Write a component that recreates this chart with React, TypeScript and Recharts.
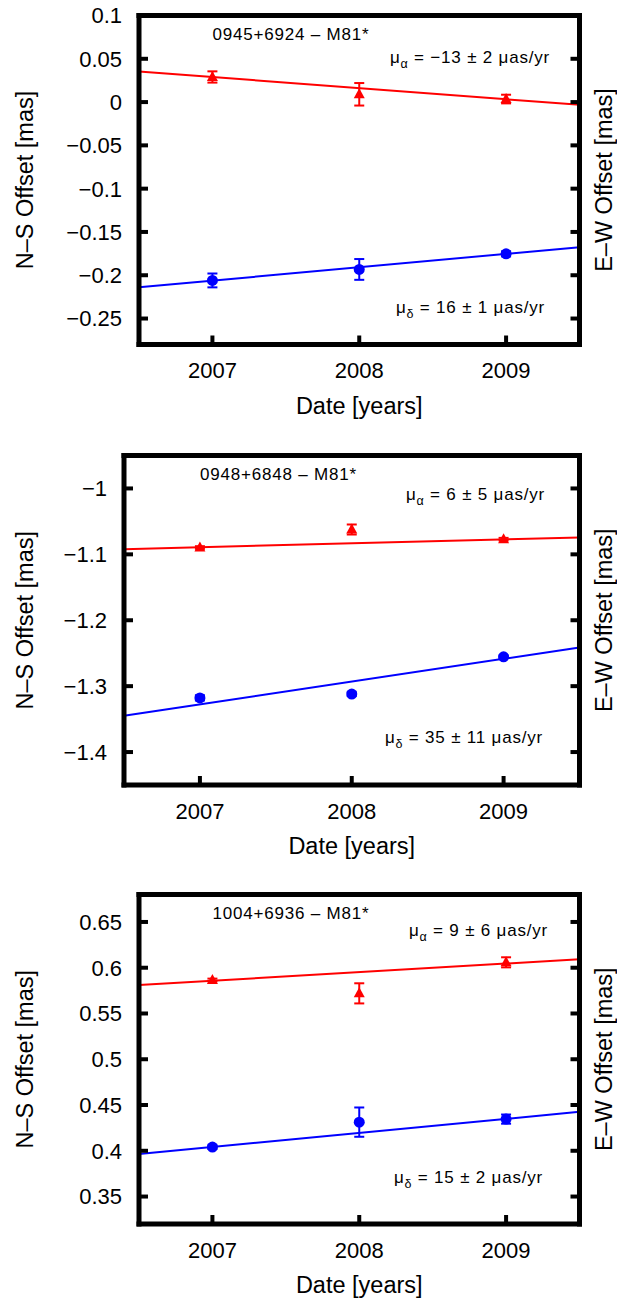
import { ComposedChart, Scatter, XAxis, YAxis, ErrorBar, ReferenceLine } from 'recharts';

const FONT = '"Liberation Sans", Arial, Helvetica, sans-serif';

const years = [2007, 2008, 2009];
const xTicks = [2007, 2008, 2009];
const xDomain = [2006.5, 2009.5];

// 0945+6924 - M81*
const p1Title = '0945+6924 – M81*';
const p1Ticks = [0.1, 0.05, 0, -0.05, -0.1, -0.15, -0.2, -0.25];
const p1Domain = [-0.28, 0.1];
const p1Ra = [0.029, 0.009, 0.0035];
const p1RaErr = [0.0065, 0.013, 0.005];
const p1Dec = [-0.206, -0.1933, -0.1753];
const p1DecErr = [0.008, 0.012, 0.003];
const p1RaFit = [0.0354, -0.0032];
const p1DecFit = [-0.214, -0.1676];
const p1MuRa = ' = −13 ± 2 μas/yr';
const p1MuDec = ' = 16 ± 1 μas/yr';

// 0948+6848 - M81*
const p2Title = '0948+6848 – M81*';
const p2Ticks = [-1, -1.1, -1.2, -1.3, -1.4];
const p2Domain = [-1.45, -0.95];
const p2Ra = [-1.0896, -1.0623, -1.077];
const p2RaErr = [0.002, 0.0076, 0.002];
const p2Dec = [-1.3178, -1.3121, -1.2555];
const p2DecErr = [0.004, 0.003, 0.002];
const p2RaFit = [-1.0922, -1.0744];
const p2DecFit = [-1.345, -1.2412];
const p2MuRa = ' = 6 ± 5 μas/yr';
const p2MuDec = ' = 35 ± 11 μas/yr';

// 1004+6936 - M81*
const p3Title = '1004+6936 – M81*';
const p3Ticks = [0.65, 0.6, 0.55, 0.5, 0.45, 0.4, 0.35];
const p3Domain = [0.32, 0.68];
const p3Ra = [0.5866, 0.572, 0.6059];
const p3RaErr = [0.0015, 0.011, 0.0055];
const p3Dec = [0.404, 0.4313, 0.4346];
const p3DecErr = [0.002, 0.016, 0.005];
const p3RaFit = [0.5811, 0.6092];
const p3DecFit = [0.3964, 0.4426];
const p3MuRa = ' = 9 ± 6 μas/yr';
const p3MuDec = ' = 15 ± 2 μas/yr';

const W = 617;
const PLOT_RIGHT = 579.5;
const CH = 440;
const TICK = 9;

const panels = [
  { offset: 0, left: 139, top: 15.5, bottom: 344.5, title: p1Title, ticks: p1Ticks, domain: p1Domain,
    ra: p1Ra, raErr: p1RaErr, dec: p1Dec, decErr: p1DecErr, raFit: p1RaFit, decFit: p1DecFit,
    muRa: p1MuRa, muDec: p1MuDec, raLbl: [550, 47.5], decLbl: [545, -31.5] },
  { offset: 440, left: 124, top: 455.5, bottom: 785, title: p2Title, ticks: p2Ticks, domain: p2Domain,
    ra: p2Ra, raErr: p2RaErr, dec: p2Dec, decErr: p2DecErr, raFit: p2RaFit, decFit: p2DecFit,
    muRa: p2MuRa, muDec: p2MuDec, raLbl: [545, 44], decLbl: [543, -41.7] },
  { offset: 880, left: 139, top: 894.5, bottom: 1224, title: p3Title, ticks: p3Ticks, domain: p3Domain,
    ra: p3Ra, raErr: p3RaErr, dec: p3Dec, decErr: p3DecErr, raFit: p3RaFit, decFit: p3DecFit,
    muRa: p3MuRa, muDec: p3MuDec, raLbl: [548, 41.5], decLbl: [543, -41] },
];

const fmt = (v: number) => String(v).replace('-', '−');

const axisLine = { stroke: '#000', strokeWidth: 5, strokeLinecap: 'square' as const };
const tickFont = { fontSize: 22, fill: '#000', fontFamily: FONT };

// gnuplot style: tick marks point into the frame
const LeftTick = (p: any) => (
  <g>
    <line x1={p.x} y1={p.y} x2={p.x + TICK} y2={p.y} stroke="#000" strokeWidth={4} />
    <text x={p.x - 17} y={p.y} dy="0.36em" textAnchor="end" {...tickFont}>{fmt(p.payload.value)}</text>
  </g>
);
const RightTick = (p: any) => (
  <line x1={p.x} y1={p.y} x2={p.x - TICK} y2={p.y} stroke="#000" strokeWidth={4} />
);
const BottomTick = (p: any) => (
  <g>
    <line x1={p.x} y1={p.y} x2={p.x} y2={p.y - TICK} stroke="#000" strokeWidth={4} />
    <text x={p.x} y={p.y + 33.5} textAnchor="middle" {...tickFont}>{p.payload.value}</text>
  </g>
);
const TopTick = (p: any) => (
  <line x1={p.x} y1={p.y} x2={p.x} y2={p.y + TICK} stroke="#000" strokeWidth={4} />
);

const Triangle = (p: any) => (
  <polygon points={`${p.cx},${p.cy - 6} ${p.cx - 5.5},${p.cy + 4} ${p.cx + 5.5},${p.cy + 4}`} fill="#ff0000" />
);
const Dot = (p: any) => <circle cx={p.cx} cy={p.cy} r={5.5} fill="#0000ff" />;

function Panel({ cfg }: { cfg: any }) {
  const ra = years.map((x, i) => ({ x, y: cfg.ra[i], err: cfg.raErr[i] }));
  const dec = years.map((x, i) => ({ x, y: cfg.dec[i], err: cfg.decErr[i] }));
  const xAxisH = 40;
  // top / right frame axes take 1px each so that they are still drawn
  const margin = {
    top: cfg.top - cfg.offset - 1,
    left: 0,
    right: W - PLOT_RIGHT - 1,
    bottom: CH - (cfg.bottom - cfg.offset) - xAxisH,
  };
  const common = { type: 'number' as const, allowDataOverflow: true, axisLine, tickLine: false, tickSize: 0, tickMargin: 0, interval: 0 as const };
  return (
    <div style={{ position: 'absolute', left: 0, top: cfg.offset }}>
      <ComposedChart width={W} height={CH} margin={margin}>
        <XAxis dataKey="x" domain={xDomain} ticks={xTicks} height={xAxisH} tick={BottomTick} {...common} />
        <XAxis xAxisId="top" orientation="top" domain={xDomain} ticks={xTicks} height={1} tick={TopTick} {...common} />
        <YAxis domain={cfg.domain} ticks={cfg.ticks} width={cfg.left} tick={LeftTick} {...common} />
        <YAxis yAxisId="right" orientation="right" domain={cfg.domain} ticks={cfg.ticks} width={1} tick={RightTick} {...common} />
        <ReferenceLine segment={[{ x: xDomain[0], y: cfg.raFit[0] }, { x: xDomain[1], y: cfg.raFit[1] }]}
          stroke="#ff0000" strokeWidth={2} ifOverflow="visible" />
        <ReferenceLine segment={[{ x: xDomain[0], y: cfg.decFit[0] }, { x: xDomain[1], y: cfg.decFit[1] }]}
          stroke="#0000ff" strokeWidth={2} ifOverflow="visible" />
        <Scatter data={ra} dataKey="y" shape={Triangle} isAnimationActive={false}>
          <ErrorBar dataKey="err" direction="y" width={5} stroke="#ff0000" strokeWidth={2} />
        </Scatter>
        <Scatter data={dec} dataKey="y" shape={Dot} isAnimationActive={false}>
          <ErrorBar dataKey="err" direction="y" width={5} stroke="#0000ff" strokeWidth={2} />
        </Scatter>
      </ComposedChart>
    </div>
  );
}

function Labels({ cfg }: { cfg: any }) {
  const pw = PLOT_RIGHT - cfg.left;
  const titleX = cfg.left + ((years[0] - xDomain[0]) / (xDomain[1] - xDomain[0])) * pw;
  const cy = (cfg.top + cfg.bottom) / 2;
  const cx = (cfg.left + PLOT_RIGHT) / 2;
  const ann = { fontSize: 17, letterSpacing: 0.8, fontFamily: FONT, fill: '#000' };
  return (
    <g>
      <text x={titleX} y={cfg.top + 24.5} {...ann}>{cfg.title}</text>
      <text x={cfg.raLbl[0]} y={cfg.top + cfg.raLbl[1]} textAnchor="end" {...ann}>
        μ<tspan fontSize={12.5} dy={5}>α</tspan><tspan dy={-5}>{cfg.muRa}</tspan>
      </text>
      <text x={cfg.decLbl[0]} y={cfg.bottom + cfg.decLbl[1]} textAnchor="end" {...ann}>
        μ<tspan fontSize={12.5} dy={5}>δ</tspan><tspan dy={-5}>{cfg.muDec}</tspan>
      </text>
      <text transform={`translate(33, ${cy}) rotate(-90)`} textAnchor="middle" fontSize={23.5} fontFamily={FONT}>
        N–S Offset [mas]
      </text>
      <text transform={`translate(612, ${cy}) rotate(-90)`} textAnchor="middle" fontSize={23.5} fontFamily={FONT}>
        E–W Offset [mas]
      </text>
      <text x={cx} y={cfg.bottom + 69} textAnchor="middle" fontSize={23.5} fontFamily={FONT}>
        Date [years]
      </text>
    </g>
  );
}

export default function App() {
  return (
    <div style={{ position: 'relative', width: W, height: 1300, background: '#fff' }}>
      <style>{'body{margin:0}'}</style>
      {panels.map((p, i) => <Panel key={i} cfg={p} />)}
      <svg width={W} height={1300} style={{ position: 'absolute', left: 0, top: 0, pointerEvents: 'none' }}>
        {panels.map((p, i) => <Labels key={i} cfg={p} />)}
      </svg>
    </div>
  );
}
